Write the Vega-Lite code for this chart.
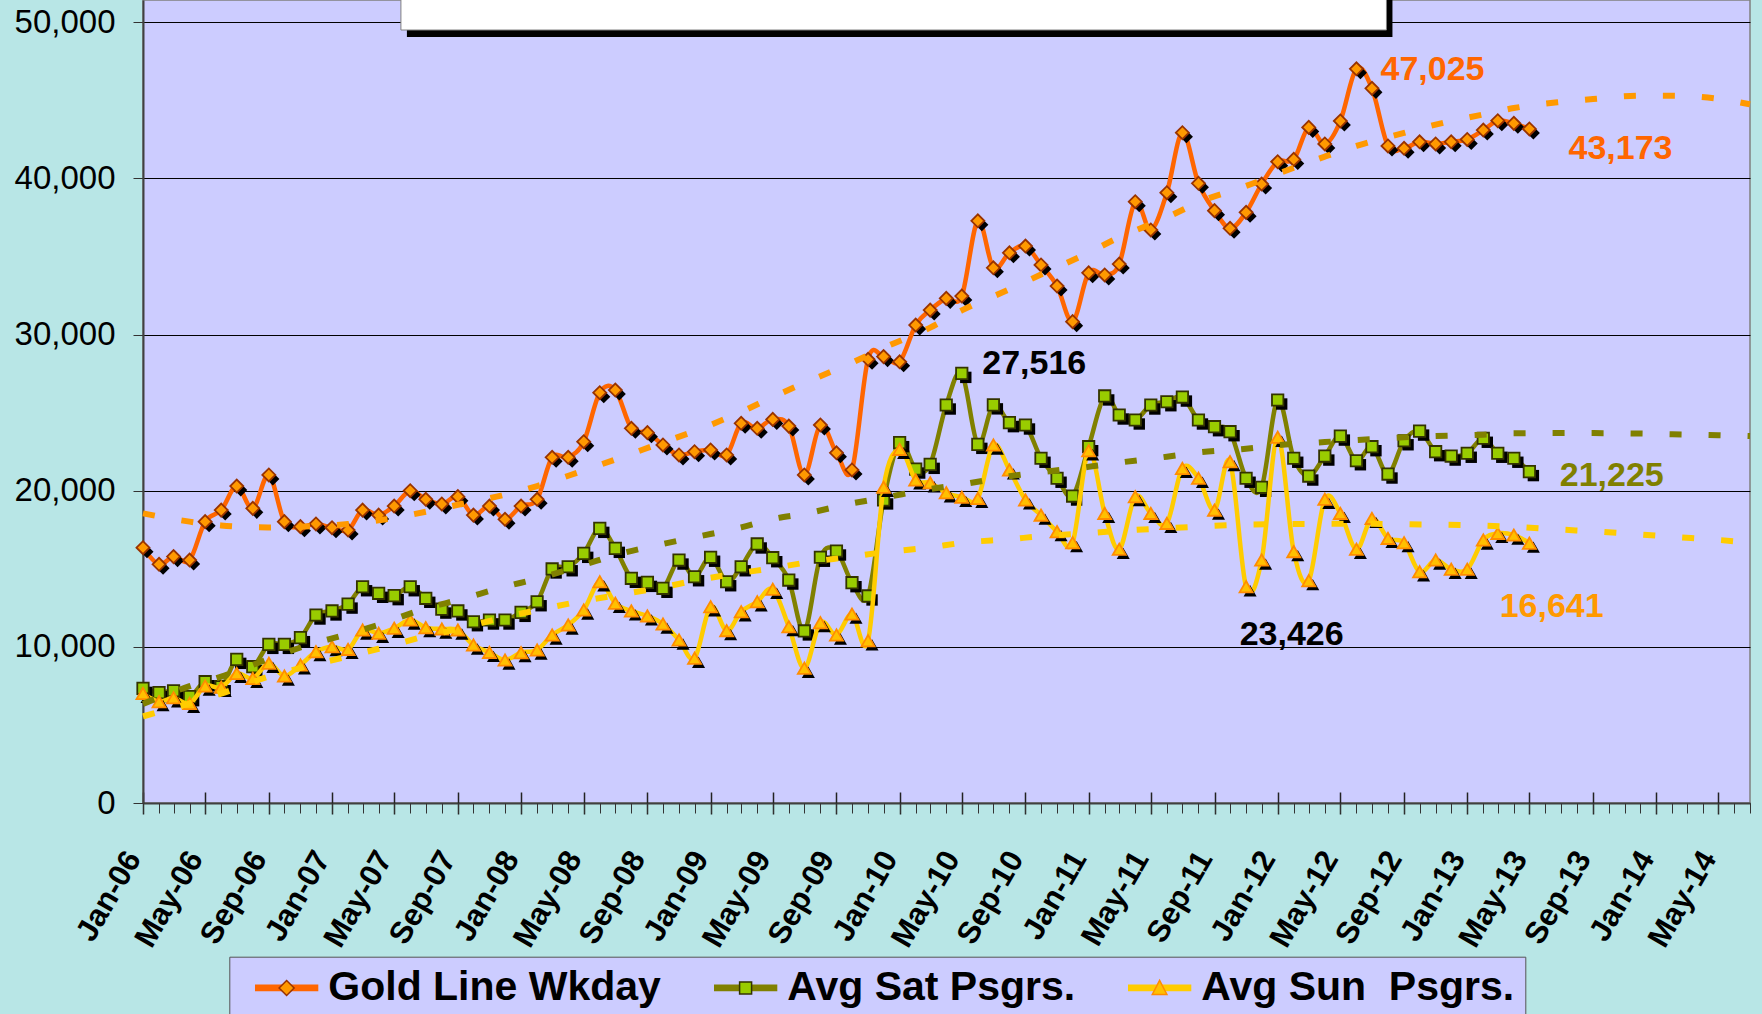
{
  "$schema": "https://vega.github.io/schema/vega-lite/v6.json",
  "width": 1607,
  "height": 803,
  "autosize": {"type": "none"},
  "padding": {"left": 143, "top": 0, "right": 12, "bottom": 211},
  "background": "#B8E6E6",
  "view": {"fill": "#CCCCFF", "stroke": "#808080", "strokeWidth": 1.5},
  "config": {
    "view": {"fill": "#CCCCFF", "stroke": "#808080", "strokeWidth": 1.5},
    "font": "Liberation Sans",
    "axisY": {
      "tickCount": 5,
      "labelFont": "Liberation Sans",
      "labelFontSize": 33,
      "labelColor": "black",
      "labelPadding": 18,
      "labelFlush": false,
      "labelOverlap": false,
      "tickSize": 10,
      "tickColor": "#333333",
      "domainColor": "#404040",
      "domainWidth": 2,
      "grid": true,
      "gridColor": "#000000",
      "gridWidth": 1
    }
  },
  "datasets": {
    "obs": [
      {"d": "2006/01/01", "wk": 16350, "sat": 7340, "sun": 7020},
      {"d": "2006/02/01", "wk": 15290, "sat": 7070, "sun": 6490},
      {"d": "2006/03/01", "wk": 15780, "sat": 7190, "sun": 6740},
      {"d": "2006/04/01", "wk": 15560, "sat": 6810, "sun": 6380},
      {"d": "2006/05/01", "wk": 18020, "sat": 7770, "sun": 7490},
      {"d": "2006/06/01", "wk": 18760, "sat": 7450, "sun": 7410},
      {"d": "2006/07/01", "wk": 20300, "sat": 9200, "sun": 8300},
      {"d": "2006/08/01", "wk": 18870, "sat": 8730, "sun": 7980},
      {"d": "2006/09/01", "wk": 21010, "sat": 10160, "sun": 8950},
      {"d": "2006/10/01", "wk": 18020, "sat": 10160, "sun": 8130},
      {"d": "2006/11/01", "wk": 17700, "sat": 10590, "sun": 8840},
      {"d": "2006/12/01", "wk": 17870, "sat": 12040, "sun": 9690},
      {"d": "2007/01/01", "wk": 17630, "sat": 12300, "sun": 10010},
      {"d": "2007/02/01", "wk": 17480, "sat": 12740, "sun": 9840},
      {"d": "2007/03/01", "wk": 18760, "sat": 13850, "sun": 11080},
      {"d": "2007/04/01", "wk": 18440, "sat": 13430, "sun": 10870},
      {"d": "2007/05/01", "wk": 19020, "sat": 13280, "sun": 11190},
      {"d": "2007/06/01", "wk": 20000, "sat": 13850, "sun": 11720},
      {"d": "2007/07/01", "wk": 19450, "sat": 13110, "sun": 11230},
      {"d": "2007/08/01", "wk": 19150, "sat": 12420, "sun": 11140},
      {"d": "2007/09/01", "wk": 19620, "sat": 12300, "sun": 11080},
      {"d": "2007/10/01", "wk": 18440, "sat": 11610, "sun": 10120},
      {"d": "2007/11/01", "wk": 19020, "sat": 11720, "sun": 9650},
      {"d": "2007/12/01", "wk": 18170, "sat": 11720, "sun": 9160},
      {"d": "2008/01/01", "wk": 19020, "sat": 12210, "sun": 9630},
      {"d": "2008/02/01", "wk": 19450, "sat": 12890, "sun": 9800},
      {"d": "2008/03/01", "wk": 22140, "sat": 14990, "sun": 10760},
      {"d": "2008/04/01", "wk": 22140, "sat": 15130, "sun": 11400},
      {"d": "2008/05/01", "wk": 23140, "sat": 15990, "sun": 12360},
      {"d": "2008/06/01", "wk": 26280, "sat": 17590, "sun": 14170},
      {"d": "2008/07/01", "wk": 26450, "sat": 16310, "sun": 12790},
      {"d": "2008/08/01", "wk": 24000, "sat": 14390, "sun": 12300},
      {"d": "2008/09/01", "wk": 23720, "sat": 14130, "sun": 11980},
      {"d": "2008/10/01", "wk": 22930, "sat": 13750, "sun": 11460},
      {"d": "2008/11/01", "wk": 22290, "sat": 15560, "sun": 10440},
      {"d": "2008/12/01", "wk": 22500, "sat": 14490, "sun": 9270},
      {"d": "2009/01/01", "wk": 22610, "sat": 15740, "sun": 12570},
      {"d": "2009/02/01", "wk": 22290, "sat": 14170, "sun": 11040},
      {"d": "2009/03/01", "wk": 24320, "sat": 15130, "sun": 12250},
      {"d": "2009/04/01", "wk": 24000, "sat": 16590, "sun": 12890},
      {"d": "2009/05/01", "wk": 24570, "sat": 15710, "sun": 13690},
      {"d": "2009/06/01", "wk": 24140, "sat": 14280, "sun": 11290},
      {"d": "2009/07/01", "wk": 21010, "sat": 11020, "sun": 8630},
      {"d": "2009/08/01", "wk": 24210, "sat": 15740, "sun": 11550},
      {"d": "2009/09/01", "wk": 22430, "sat": 16140, "sun": 10760},
      {"d": "2009/10/01", "wk": 21330, "sat": 14110, "sun": 12100},
      {"d": "2009/11/01", "wk": 28420, "sat": 13260, "sun": 10390},
      {"d": "2009/12/01", "wk": 28590, "sat": 19410, "sun": 20220},
      {"d": "2010/01/01", "wk": 28260, "sat": 23080, "sun": 22650},
      {"d": "2010/02/01", "wk": 30610, "sat": 21390, "sun": 20690},
      {"d": "2010/03/01", "wk": 31570, "sat": 21690, "sun": 20510},
      {"d": "2010/04/01", "wk": 32320, "sat": 25490, "sun": 19870},
      {"d": "2010/05/01", "wk": 32470, "sat": 27516, "sun": 19580},
      {"d": "2010/06/01", "wk": 37290, "sat": 22970, "sun": 19510},
      {"d": "2010/07/01", "wk": 34280, "sat": 25500, "sun": 22930},
      {"d": "2010/08/01", "wk": 35240, "sat": 24360, "sun": 21330},
      {"d": "2010/09/01", "wk": 35670, "sat": 24210, "sun": 19410},
      {"d": "2010/10/01", "wk": 34460, "sat": 22080, "sun": 18440},
      {"d": "2010/11/01", "wk": 33110, "sat": 20800, "sun": 17380},
      {"d": "2010/12/01", "wk": 30830, "sat": 19660, "sun": 16670},
      {"d": "2011/01/01", "wk": 33960, "sat": 22820, "sun": 22560},
      {"d": "2011/02/01", "wk": 33820, "sat": 26070, "sun": 18550},
      {"d": "2011/03/01", "wk": 34520, "sat": 24850, "sun": 16250},
      {"d": "2011/04/01", "wk": 38510, "sat": 24530, "sun": 19620},
      {"d": "2011/05/01", "wk": 36700, "sat": 25490, "sun": 18550},
      {"d": "2011/06/01", "wk": 39090, "sat": 25700, "sun": 17910},
      {"d": "2011/07/01", "wk": 42930, "sat": 26000, "sun": 21430},
      {"d": "2011/08/01", "wk": 39690, "sat": 24530, "sun": 20800},
      {"d": "2011/09/01", "wk": 37940, "sat": 24100, "sun": 18760},
      {"d": "2011/10/01", "wk": 36810, "sat": 23780, "sun": 21860},
      {"d": "2011/11/01", "wk": 37830, "sat": 20800, "sun": 13850},
      {"d": "2011/12/01", "wk": 39640, "sat": 20220, "sun": 15560},
      {"d": "2012/01/01", "wk": 41070, "sat": 25810, "sun": 23426},
      {"d": "2012/02/01", "wk": 41220, "sat": 22080, "sun": 16100},
      {"d": "2012/03/01", "wk": 43270, "sat": 20940, "sun": 14240},
      {"d": "2012/04/01", "wk": 42210, "sat": 22220, "sun": 19450},
      {"d": "2012/05/01", "wk": 43680, "sat": 23500, "sun": 18550},
      {"d": "2012/06/01", "wk": 47025, "sat": 21920, "sun": 16250},
      {"d": "2012/07/01", "wk": 45770, "sat": 22820, "sun": 18230},
      {"d": "2012/08/01", "wk": 42080, "sat": 21070, "sun": 16950},
      {"d": "2012/09/01", "wk": 41930, "sat": 23200, "sun": 16670},
      {"d": "2012/10/01", "wk": 42350, "sat": 23820, "sun": 14810},
      {"d": "2012/11/01", "wk": 42210, "sat": 22500, "sun": 15560},
      {"d": "2012/12/01", "wk": 42350, "sat": 22220, "sun": 14970},
      {"d": "2013/01/01", "wk": 42500, "sat": 22400, "sun": 14970},
      {"d": "2013/02/01", "wk": 43100, "sat": 23360, "sun": 16840},
      {"d": "2013/03/01", "wk": 43700, "sat": 22400, "sun": 17270},
      {"d": "2013/04/01", "wk": 43530, "sat": 22080, "sun": 17160},
      {"d": "2013/05/01", "wk": 43173, "sat": 21225, "sun": 16641}
    ],
    "trend": [
      {"d": "2006/01/01", "wk": 18550, "sat": 6350, "sun": 5550},
      {"d": "2006/04/01", "wk": 18020, "sat": 7480, "sun": 6380},
      {"d": "2006/06/01", "wk": 17780, "sat": 8100, "sun": 7000},
      {"d": "2006/09/01", "wk": 17650, "sat": 9230, "sun": 8100},
      {"d": "2006/11/01", "wk": 17700, "sat": 9960, "sun": 8650},
      {"d": "2007/02/01", "wk": 17870, "sat": 10830, "sun": 9390},
      {"d": "2007/04/01", "wk": 18100, "sat": 11420, "sun": 9880},
      {"d": "2007/07/01", "wk": 18650, "sat": 12460, "sun": 10680},
      {"d": "2007/09/01", "wk": 19100, "sat": 13000, "sun": 11150},
      {"d": "2007/12/01", "wk": 19750, "sat": 13850, "sun": 11900},
      {"d": "2008/02/01", "wk": 20300, "sat": 14370, "sun": 12350},
      {"d": "2008/05/01", "wk": 21300, "sat": 15250, "sun": 12950},
      {"d": "2008/07/01", "wk": 22000, "sat": 15880, "sun": 13300},
      {"d": "2008/10/01", "wk": 23100, "sat": 16590, "sun": 13820},
      {"d": "2008/12/01", "wk": 23820, "sat": 17020, "sun": 14240},
      {"d": "2009/03/01", "wk": 25050, "sat": 17650, "sun": 14740},
      {"d": "2009/05/01", "wk": 26000, "sat": 18190, "sun": 15040},
      {"d": "2009/07/01", "wk": 26900, "sat": 18520, "sun": 15380},
      {"d": "2009/10/01", "wk": 28200, "sat": 19190, "sun": 15780},
      {"d": "2009/12/01", "wk": 29150, "sat": 19550, "sun": 16060},
      {"d": "2010/03/01", "wk": 30450, "sat": 20110, "sun": 16370},
      {"d": "2010/05/01", "wk": 31550, "sat": 20400, "sun": 16660},
      {"d": "2010/08/01", "wk": 32900, "sat": 20930, "sun": 16900},
      {"d": "2010/10/01", "wk": 33850, "sat": 21190, "sun": 17080},
      {"d": "2011/01/01", "wk": 35250, "sat": 21530, "sun": 17290},
      {"d": "2011/03/01", "wk": 36230, "sat": 21800, "sun": 17430},
      {"d": "2011/06/01", "wk": 37500, "sat": 22180, "sun": 17600},
      {"d": "2011/08/01", "wk": 38470, "sat": 22450, "sun": 17700},
      {"d": "2011/11/01", "wk": 39520, "sat": 22690, "sun": 17830},
      {"d": "2012/01/01", "wk": 40300, "sat": 22920, "sun": 17860},
      {"d": "2012/04/01", "wk": 41400, "sat": 23120, "sun": 17880},
      {"d": "2012/06/01", "wk": 42080, "sat": 23250, "sun": 17880},
      {"d": "2012/09/01", "wk": 42920, "sat": 23420, "sun": 17860},
      {"d": "2012/11/01", "wk": 43450, "sat": 23500, "sun": 17830},
      {"d": "2013/02/01", "wk": 44100, "sat": 23590, "sun": 17760},
      {"d": "2013/04/01", "wk": 44510, "sat": 23680, "sun": 17690},
      {"d": "2013/07/01", "wk": 44900, "sat": 23690, "sun": 17510},
      {"d": "2013/09/01", "wk": 45090, "sat": 23690, "sun": 17400},
      {"d": "2013/12/01", "wk": 45300, "sat": 23660, "sun": 17200},
      {"d": "2014/02/01", "wk": 45300, "sat": 23620, "sun": 17050},
      {"d": "2014/05/01", "wk": 45100, "sat": 23560, "sun": 16850},
      {"d": "2014/07/01", "wk": 44750, "sat": 23500, "sun": 16670}
    ]
  },
  "resolve": {"axis": {"x": "independent"}},
  "layer": [
    {
      "data": {"values": [{"x1": "2007/05/14", "x2": "2012/07/29", "y1": 49508, "y2": 53000}]},
      "mark": {"type": "rect", "color": "black", "xOffset": 6, "x2Offset": 6, "yOffset": 7, "y2Offset": 7},
      "encoding": {
        "x": {"field": "x1", "type": "temporal", "axis": null, "scale": {"domain": [{"year": 2006, "month": 1, "date": 1}, {"year": 2014, "month": 7, "date": 1}], "nice": false}},
        "x2": {"field": "x2"},
        "y": {"field": "y1", "type": "quantitative", "axis": {"title": null}, "scale": {"domain": [0, 51430], "nice": false}},
        "y2": {"field": "y2"}
      }
    },
    {
      "data": {"values": [{"x1": "2007/05/14", "x2": "2012/07/29", "y1": 49508, "y2": 53000}]},
      "mark": {"type": "rect", "fill": "white", "stroke": "#808080", "strokeWidth": 1},
      "encoding": {
        "x": {"field": "x1", "type": "temporal", "axis": null},
        "x2": {"field": "x2"},
        "y": {"field": "y1", "type": "quantitative", "axis": {"title": null}},
        "y2": {"field": "y2"}
      }
    },
    {
      "data": {"name": "obs"},
      "mark": {"type": "line", "interpolate": "cardinal", "strokeWidth": 4.5, "color": "#FF6600"},
      "encoding": {"x": {"field": "d", "type": "temporal", "axis": null}, "y": {"field": "wk", "type": "quantitative", "axis": {"title": null}}}
    },
    {
      "data": {"name": "obs"},
      "mark": {"type": "point", "shape": "diamond", "filled": true, "size": 170, "opacity": 1, "color": "black", "xOffset": 4, "yOffset": 4},
      "encoding": {"x": {"field": "d", "type": "temporal", "axis": null}, "y": {"field": "wk", "type": "quantitative", "axis": {"title": null}}}
    },
    {
      "data": {"name": "obs"},
      "mark": {"type": "point", "shape": "diamond", "filled": true, "size": 170, "opacity": 1, "fill": "#FF9900", "stroke": "#993300", "strokeWidth": 1.8},
      "encoding": {"x": {"field": "d", "type": "temporal", "axis": null}, "y": {"field": "wk", "type": "quantitative", "axis": {"title": null}}}
    },
    {
      "data": {"name": "obs"},
      "mark": {"type": "line", "interpolate": "cardinal", "strokeWidth": 4.5, "color": "#808000"},
      "encoding": {"x": {"field": "d", "type": "temporal", "axis": null}, "y": {"field": "sat", "type": "quantitative", "axis": {"title": null}}}
    },
    {
      "data": {"name": "obs"},
      "mark": {"type": "point", "shape": "square", "filled": true, "size": 130, "opacity": 1, "color": "black", "xOffset": 4, "yOffset": 4},
      "encoding": {"x": {"field": "d", "type": "temporal", "axis": null}, "y": {"field": "sat", "type": "quantitative", "axis": {"title": null}}}
    },
    {
      "data": {"name": "obs"},
      "mark": {"type": "point", "shape": "square", "filled": true, "size": 130, "opacity": 1, "fill": "#99CC00", "stroke": "#333300", "strokeWidth": 1.8},
      "encoding": {"x": {"field": "d", "type": "temporal", "axis": null}, "y": {"field": "sat", "type": "quantitative", "axis": {"title": null}}}
    },
    {
      "data": {"name": "obs"},
      "mark": {"type": "line", "interpolate": "cardinal", "strokeWidth": 4.5, "color": "#FFCC00"},
      "encoding": {"x": {"field": "d", "type": "temporal", "axis": null}, "y": {"field": "sun", "type": "quantitative", "axis": {"title": null}}}
    },
    {
      "data": {"name": "obs"},
      "mark": {"type": "point", "shape": "triangle-up", "filled": true, "size": 170, "opacity": 1, "color": "black", "xOffset": 4, "yOffset": 4},
      "encoding": {"x": {"field": "d", "type": "temporal", "axis": null}, "y": {"field": "sun", "type": "quantitative", "axis": {"title": null}}}
    },
    {
      "data": {"name": "obs"},
      "mark": {"type": "point", "shape": "triangle-up", "filled": true, "size": 170, "opacity": 1, "fill": "#FFC000", "stroke": "#FF8C00", "strokeWidth": 1.8},
      "encoding": {"x": {"field": "d", "type": "temporal", "axis": null}, "y": {"field": "sun", "type": "quantitative", "axis": {"title": null}}}
    },
    {
      "data": {"name": "trend"},
      "mark": {"type": "line", "interpolate": "monotone", "strokeWidth": 6, "strokeDash": [12, 27], "strokeCap": "butt", "color": "#FF9900"},
      "encoding": {
        "x": {
          "field": "d",
          "type": "temporal",
          "axis": {
            "orient": "bottom",
            "title": null,
            "format": "%b-%y",
            "tickCount": {"interval": "month", "step": 4},
            "labelAngle": -60,
            "labelAlign": "right",
            "labelBaseline": "middle",
            "labelFont": "Liberation Sans",
            "labelFontSize": 31,
            "labelFontWeight": "bold",
            "labelColor": "black",
            "labelPadding": 39.5,
            "labelOffset": -9.5,
            "labelOverlap": false,
            "labelFlush": false,
            "labelBound": false,
            "tickSize": 11,
            "tickColor": "#222222",
            "tickWidth": 1.5,
            "domainColor": "#404040",
            "domainWidth": 2,
            "grid": false
          }
        },
        "y": {"field": "wk", "type": "quantitative", "axis": {"title": null}}
      }
    },
    {
      "data": {"name": "trend"},
      "mark": {"type": "line", "interpolate": "monotone", "strokeWidth": 6, "strokeDash": [12, 27], "strokeCap": "butt", "color": "#808000"},
      "encoding": {
        "x": {
          "field": "d",
          "type": "temporal",
          "axis": {"orient": "bottom", "title": null, "labels": false, "domain": false, "grid": false, "tickCount": {"interval": "month", "step": 4}, "tickSize": -11, "tickColor": "#222222", "tickWidth": 1.5}
        },
        "y": {"field": "sat", "type": "quantitative", "axis": {"title": null}}
      }
    },
    {
      "data": {"name": "trend"},
      "mark": {"type": "line", "interpolate": "monotone", "strokeWidth": 6, "strokeDash": [12, 27], "strokeCap": "butt", "color": "#FFCC00"},
      "encoding": {
        "x": {
          "field": "d",
          "type": "temporal",
          "axis": {"orient": "bottom", "title": null, "labels": false, "domain": false, "grid": false, "tickCount": {"interval": "month", "step": 1}, "tickSize": 10, "tickColor": "#333333", "tickWidth": 1}
        },
        "y": {"field": "sun", "type": "quantitative", "axis": {"title": null}}
      }
    },
    {
      "data": {"values": [{"d": "2012/10/26", "v": 46966, "t": "47,025"}, {"d": "2013/10/24", "v": 41855, "t": "43,173"}]},
      "mark": {"type": "text", "font": "Liberation Sans", "fontSize": 34, "fontWeight": "bold", "color": "#FF6600", "align": "center", "baseline": "middle"},
      "encoding": {"x": {"field": "d", "type": "temporal", "axis": null}, "y": {"field": "v", "type": "quantitative", "axis": {"title": null}}, "text": {"field": "t"}}
    },
    {
      "data": {"values": [{"d": "2010/09/18", "v": 28117, "t": "27,516"}, {"d": "2012/01/28", "v": 10728, "t": "23,426"}]},
      "mark": {"type": "text", "font": "Liberation Sans", "fontSize": 34, "fontWeight": "bold", "color": "#000000", "align": "center", "baseline": "middle"},
      "encoding": {"x": {"field": "d", "type": "temporal", "axis": null}, "y": {"field": "v", "type": "quantitative", "axis": {"title": null}}, "text": {"field": "t"}}
    },
    {
      "data": {"values": [{"d": "2013/10/07", "v": 20956, "t": "21,225"}]},
      "mark": {"type": "text", "font": "Liberation Sans", "fontSize": 34, "fontWeight": "bold", "color": "#808000", "align": "center", "baseline": "middle"},
      "encoding": {"x": {"field": "d", "type": "temporal", "axis": null}, "y": {"field": "v", "type": "quantitative", "axis": {"title": null}}, "text": {"field": "t"}}
    },
    {
      "data": {"values": [{"d": "2013/06/13", "v": 12540, "t": "16,641"}]},
      "mark": {"type": "text", "font": "Liberation Sans", "fontSize": 34, "fontWeight": "bold", "color": "#FF9900", "align": "center", "baseline": "middle"},
      "encoding": {"x": {"field": "d", "type": "temporal", "axis": null}, "y": {"field": "v", "type": "quantitative", "axis": {"title": null}}, "text": {"field": "t"}}
    },
    {
      "data": {"values": [{"s": "wk"}, {"s": "sat"}, {"s": "sun"}]},
      "transform": [{"filter": "false"}],
      "mark": {"type": "point", "filled": true, "opacity": 1},
      "encoding": {
        "color": {
          "field": "s",
          "type": "nominal",
          "scale": {"domain": ["wk", "sat", "sun"], "range": ["#FF6600", "#808000", "#FFCC00"]},
          "legend": {
            "title": null,
            "orient": "none",
            "legendX": 86.3,
            "legendY": 956.7,
            "direction": "horizontal",
            "fillColor": "#CCCCFF",
            "strokeColor": "#555555",
            "padding": 10.5,
            "labelFont": "Liberation Sans",
            "labelFontSize": 41,
            "labelFontWeight": "bold",
            "labelColor": "black",
            "labelLimit": 1000,
            "labelOffset": 47.5,
            "columnPadding": 37,
            "symbolSize": 400,
            "symbolStrokeWidth": 0,
            "symbolOpacity": 1,
            "symbolType": "M-0.53,-0.335H5.8V0.335H-0.53Z",
            "labelExpr": "datum.label == 'wk' ? 'Gold Line Wkday' : datum.label == 'sat' ? 'Avg Sat Psgrs.' : 'Avg Sun \u00a0Psgrs.'"
          }
        }
      }
    },
    {
      "data": {"values": [{"k": "wkm"}, {"k": "satm"}, {"k": "sunm"}]},
      "transform": [{"filter": "false"}],
      "mark": {"type": "point", "filled": true, "opacity": 1, "strokeWidth": 1.5},
      "encoding": {
        "fill": {
          "field": "k",
          "type": "nominal",
          "scale": {"domain": ["wkm", "satm", "sunm"], "range": ["#FF9900", "#99CC00", "#FFC000"]},
          "legend": {
            "title": null,
            "orient": "none",
            "legendX": 86.3,
            "legendY": 956.7,
            "direction": "horizontal",
            "padding": 10.5,
            "labelFont": "Liberation Sans",
            "labelFontSize": 41,
            "labelFontWeight": "bold",
            "labelColor": "black",
            "labelOpacity": 0,
            "labelLimit": 1000,
            "labelOffset": 47.5,
            "columnPadding": 37,
            "symbolSize": 400,
            "symbolStrokeWidth": 1.5,
            "symbolOpacity": 1,
            "labelExpr": "datum.label == 'wkm' ? 'Gold Line Wkday' : datum.label == 'satm' ? 'Avg Sat Psgrs.' : 'Avg Sun \u00a0Psgrs.'"
          }
        },
        "stroke": {
          "field": "k",
          "type": "nominal",
          "scale": {"domain": ["wkm", "satm", "sunm"], "range": ["#993300", "#333300", "#FF8C00"]}
        },
        "shape": {
          "field": "k",
          "type": "nominal",
          "scale": {"domain": ["wkm", "satm", "sunm"], "range": ["M2.63,-0.75L3.38,0L2.63,0.75L1.88,0Z", "M2.03,-0.6H3.23V0.6H2.03Z", "M2.63,-0.75L3.36,0.65H1.9Z"]}
        }
      }
    }
  ]
}
